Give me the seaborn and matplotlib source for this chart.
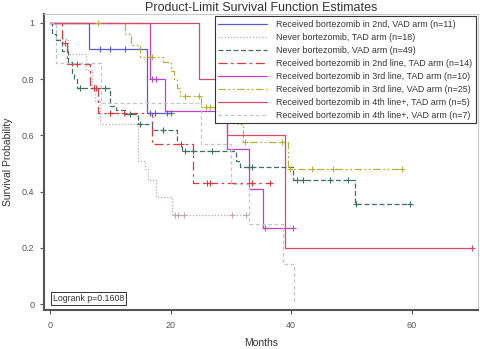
import numpy as np
import pandas as pd
import matplotlib
matplotlib.use("Agg")
import matplotlib.pyplot as plt
import seaborn as sns

# ---------------- data ----------------
labels = [
    "Received bortezomib in 2nd, VAD arm (n=11)",
    "Never bortezomib, TAD arm (n=18)",
    "Never bortezomib, VAD arm (n=49)",
    "Received bortezomib in 2nd line, TAD arm (n=14)",
    "Received bortezomib in 3rd line, TAD arm (n=10)",
    "Received bortezomib in 3rd line, VAD arm (n=25)",
    "Received bortezomib in 4th line+, TAD arm (n=5)",
    "Received bortezomib in 4th line+, VAD arm (n=7)",
]

# step curves: times of changes and survival level after each change
t_2nd_vad = [0, 6.5, 16.1, 20.0]
s_2nd_vad = [1, 0.909, 0.68, 0.68]
c_2nd_vad = [8.3, 10.0, 12.4, 16.6, 17.4, 19.4, 20.0]

t_never_tad = [0, 1.0, 3.0, 6.0, 7.0, 7.5, 8.3, 14.6, 15.8, 16.3, 17.5, 20.2, 32.8]
s_never_tad = [1, 0.944, 0.889, 0.833, 0.778, 0.722, 0.64, 0.51, 0.48, 0.44, 0.38, 0.316, 0.316]
c_never_tad = [20.7, 21.2, 22.2, 30.2, 32.5]

t_never_vad = [0, 0.3, 1.0, 2.0, 3.0, 3.7, 4.0, 4.5, 10.0, 11.0, 12.5, 14.6, 16.9,
               21.0, 21.9, 30.8, 31.5, 40.3, 50.6, 59.7]
s_never_vad = [1, 0.96, 0.94, 0.90, 0.86, 0.82, 0.80, 0.77, 0.705, 0.69, 0.676, 0.64, 0.62,
               0.57, 0.546, 0.51, 0.486, 0.44, 0.355, 0.355]
c_never_vad = [5.0, 9.2, 13.3, 15.0, 18.7, 22.4, 23.7, 26.9, 33.0, 33.5, 41.0, 42.0,
               46.4, 49.4, 50.8, 59.7]

t_2nd_tad = [0, 2.0, 2.8, 6.6, 8.0, 16.9, 23.7, 36.5]
s_2nd_tad = [1, 0.93, 0.855, 0.77, 0.68, 0.57, 0.43, 0.43]
c_2nd_tad = [2.5, 4.5, 7.3, 7.6, 10.0, 12.2, 21.7, 26.0, 26.6, 33.5, 36.5]

t_3rd_tad = [0, 16.6, 19.0, 29.3, 33.0, 35.3, 40.3]
s_3rd_tad = [1, 0.8, 0.686, 0.55, 0.41, 0.27, 0.27]
c_3rd_tad = [16.9, 17.6, 35.6, 40.3]

t_3rd_vad = [0, 12.5, 13.5, 15.0, 18.7, 20.0, 20.6, 21.0, 21.5, 25.0, 31.0, 32.0, 39.5, 58.4]
s_3rd_vad = [1, 0.96, 0.92, 0.88, 0.86, 0.83, 0.80, 0.77, 0.74, 0.70, 0.64, 0.575, 0.48, 0.48]
c_3rd_vad = [8.0, 16.9, 22.4, 24.7, 25.8, 26.5, 28.5, 32.3, 38.5, 39.8, 43.4, 47.0, 58.4]

t_4th_tad = [0, 24.7, 29.3, 39.0, 70.0]
s_4th_tad = [1, 0.8, 0.6, 0.2, 0.2]
c_4th_tad = [70.0]

t_4th_vad = [0, 1.0, 8.5, 25.0, 30.0, 33.0, 38.6, 40.5]
s_4th_vad = [1, 0.857, 0.714, 0.571, 0.429, 0.286, 0.143, 0.0]
c_4th_vad = []

x_ticks = [0, 20, 40, 60]
y_ticks = [0, 0.2, 0.4, 0.6, 0.8, 1]
y_tick_labels = ["0", "0.2", "0.4", "0.6", "0.8", "1"]

# ---------------- style ----------------
sns.set_theme(style="white")
plt.rcParams["font.family"] = ["Liberation Sans", "DejaVu Sans"]

series = [
    (t_2nd_vad, s_2nd_vad, c_2nd_vad, "#5a5ad2", "-"),
    (t_never_tad, s_never_tad, c_never_tad, "#c0a8b8", (0, (1, 1.5))),
    (t_never_vad, s_never_vad, c_never_vad, "#3f6f62", (0, (4, 2))),
    (t_2nd_tad, s_2nd_tad, c_2nd_tad, "#e0383c", (0, (7, 3, 2, 3))),
    (t_3rd_tad, s_3rd_tad, c_3rd_tad, "#c040c8", "-"),
    (t_3rd_vad, s_3rd_vad, c_3rd_vad, "#b4b43c", (0, (6, 2, 1.5, 2, 1.5, 2))),
    (t_4th_tad, s_4th_tad, c_4th_tad, "#d84a6a", "-"),
    (t_4th_vad, s_4th_vad, c_4th_vad, "#c4c4d4", (0, (3, 2))),
]

fig = plt.figure(figsize=(4.8, 3.49), dpi=100)
ax = fig.add_axes([44 / 480, 1 - 310 / 349, (478 - 44) / 480, (310 - 14) / 349])

for (t, s, c, col, ls), lab in zip(series, labels):
    df = pd.DataFrame({"Months": t, "Survival": s})
    sns.lineplot(data=df, x="Months", y="Survival", ax=ax, drawstyle="steps-post",
                 color=col, linestyle=ls, linewidth=0.9, label=lab,
                 estimator=None, sort=False)
    if len(c):
        ta = np.asarray(t)
        sa = np.asarray(s)
        idx = np.searchsorted(ta, np.asarray(c), side="right") - 1
        cdf = pd.DataFrame({"Months": c, "Survival": sa[idx]})
        sns.scatterplot(data=cdf, x="Months", y="Survival", ax=ax, marker="+",
                        color=col, s=22, linewidth=0.8, legend=False, zorder=3)

ax.set_xlim(-1.0, 71.0)
ax.set_ylim(-0.021, 1.032)
ax.set_xticks(x_ticks)
ax.set_yticks(y_ticks)
ax.set_yticklabels(y_tick_labels)
ax.tick_params(axis="both", labelsize=6.5, labelcolor="#555555", colors="#555555",
               length=3, width=0.8, direction="out", left=True, bottom=True)
ax.tick_params(axis="y", pad=4)
ax.tick_params(axis="x", pad=5)
ax.set_xlabel("Months", fontsize=7.5, color="#333333", labelpad=6)
ax.set_ylabel("Survival Probability", fontsize=7.5, color="#333333", labelpad=7)
ax.yaxis.set_label_coords(-0.072, 0.5)
ax.set_title("Product-Limit Survival Function Estimates", fontsize=9, color="#333333",
             pad=2)

for side in ["left", "bottom"]:
    ax.spines[side].set_color("#555555")
    ax.spines[side].set_linewidth(1.5)
for side in ["top", "right"]:
    ax.spines[side].set_color("#c8c8c8")
    ax.spines[side].set_linewidth(0.8)

leg = ax.legend(loc="upper right", fontsize=6.4, frameon=True, fancybox=False,
                edgecolor="#333333", framealpha=1, handlelength=5.5,
                labelspacing=0.45, borderpad=0.4, handletextpad=1.0,
                borderaxespad=0.25)
leg.get_frame().set_linewidth(0.8)
for txt in leg.get_texts():
    txt.set_color("#333333")

ax.text(0.5, 0.02, "Logrank p=0.1608", fontsize=6.3, color="#333333",
        ha="left", va="center",
        bbox=dict(boxstyle="square,pad=0.25", fc="white", ec="#333333", lw=0.7))

fig.savefig("out.png", dpi=100)
